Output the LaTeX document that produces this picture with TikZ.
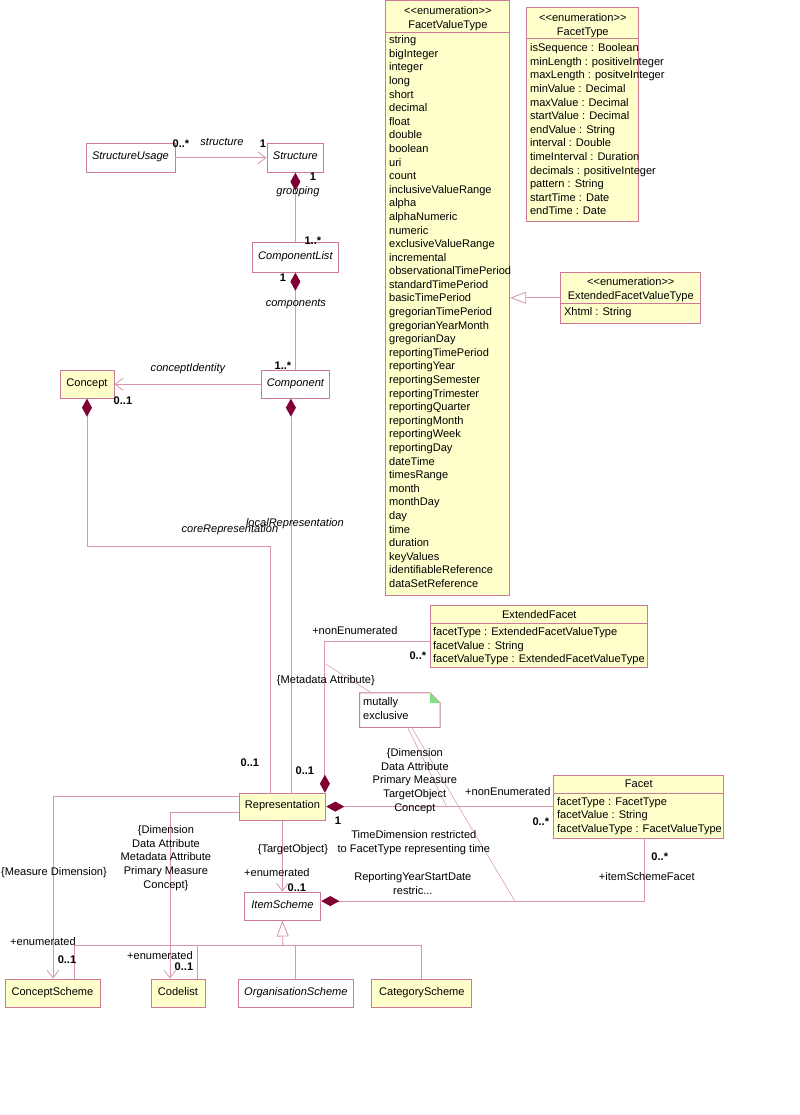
\documentclass[tikz,border=0pt]{standalone}
\usepackage{fontspec}
\setmainfont{Liberation Sans}
\usepackage{xcolor}
\usepackage{tikz}
\usetikzlibrary{arrows.meta}

\definecolor{umlline}{RGB}{216,150,172}
\definecolor{umlborder}{RGB}{204,122,150}
\definecolor{umlfill}{RGB}{255,255,204}
\definecolor{umldiamond}{RGB}{128,0,51}
\definecolor{umlgreen}{RGB}{128,224,128}

\tikzset{
    sz/.style 2 args={minimum width=#1*0.75pt, minimum height=#2*0.75pt},
    cls/.style={draw=umlborder, line width=0.6pt, fill=white, inner sep=0pt, text height=6pt, text depth=3pt},
    ycls/.style={cls, fill=umlfill},
    abs/.style={cls, font=\fontsize{8.3}{10.2}\selectfont\itshape},
    sep/.style={draw=umlborder, line width=0.6pt},
    assoc/.style={draw=umlline, line width=0.6pt},
    comp/.style={{Diamond[length=13.5pt,width=7.5pt,color=umldiamond,fill=umldiamond]}-},
    gen/.style={-{Triangle[open,length=12pt,width=9pt,fill=white]}},
    lbl/.style={inner sep=0pt},
    mult/.style={lbl, font=\fontsize{8.3}{10.2}\selectfont\bfseries},
    role/.style={lbl, font=\fontsize{8.3}{10.2}\selectfont\itshape},
    list/.style={inner sep=0pt, anchor=north west, align=left}
}

\begin{document}
\begin{tikzpicture}[x=0.75pt, y=-0.75pt, font=\fontsize{8.3}{10.2}\selectfont,
                >={Straight Barb[length=6pt,width=9pt]}]
                \fill[white] (0,0) rectangle (800,1115);

                \node[abs, sz={89}{29}] (Usage) at (130.5,157.5) {StructureUsage};
                \node[abs, sz={57}{29}] (Struct) at (295.5,157.5) {Structure};
                \node[abs, sz={87}{30}] (List) at (295.5,257) {ComponentList};
                \node[abs, sz={69}{28}] (Comp) at (295.5,384) {Component};
                \node[ycls, sz={54}{28}] (Conc) at (87,384) {Concept};
                \node[ycls, sz={87}{27}] (Rep) at (282.5,806.5) {Representation};
                \node[abs, sz={77}{28}] (Items) at (282.5,906) {ItemScheme};
                \node[ycls, sz={95}{28}] (CScheme) at (52.5,993) {ConceptScheme};
                \node[ycls, sz={54}{28}] (Codes) at (178,993) {Codelist};
                \node[abs, sz={116}{28}] (OScheme) at (296,993) {OrganisationScheme};
                \node[ycls, sz={100}{28}] (CatScheme) at (422,993) {CategoryScheme};

                \node[ycls, sz={124}{595}] (FVT) at (448,297.5) {};
                \node[lbl, align=center] (FVTname) at (448,18) {<{}<enumeration>{}>\\FacetValueType};
                \draw[sep] (FVT.west |- 0,32) -- (FVT.east |- 0,32);
                \node[list] (FVTlist) at (389,35) {string\\bigInteger\\integer\\long\\short\\decimal\\float\\double\\boolean\\uri\\count\\inclusiveValueRange\\alpha\\alphaNumeric\\numeric\\exclusiveValueRange\\incremental\\observationalTimePeriod\\standardTimePeriod\\basicTimePeriod\\gregorianTimePeriod\\gregorianYearMonth\\gregorianDay\\reportingTimePeriod\\reportingYear\\reportingSemester\\reportingTrimester\\reportingQuarter\\reportingMonth\\reportingWeek\\reportingDay\\dateTime\\timesRange\\month\\monthDay\\day\\time\\duration\\keyValues\\identifiableReference\\dataSetReference};

                \node[ycls, sz={112}{214}] (FT) at (583,114) {};
                \node[lbl, align=center] (FTname) at (583,25.5) {<{}<enumeration>{}>\\FacetType};
                \draw[sep] (FT.west |- 0,38) -- (FT.east |- 0,38);
                \node[list] (FTlist) at (530,43) {isSequence : Boolean\\minLength : positiveInteger\\maxLength : positveInteger\\minValue : Decimal\\maxValue : Decimal\\startValue : Decimal\\endValue : String\\interval : Double\\timeInterval : Duration\\decimals : positiveInteger\\pattern : String\\startTime : Date\\endTime : Date};

                \node[ycls, sz={140}{51}] (EFVT) at (631,297.5) {};
                \node[lbl, align=center] (EFVTname) at (631,289.5) {<{}<enumeration>{}>\\ExtendedFacetValueType};
                \draw[sep] (EFVT.west |- 0,303) -- (EFVT.east |- 0,303);
                \node[list] (EFVTlist) at (564,307) {Xhtml : String};

                \node[ycls, sz={217}{62}] (ExtFacet) at (539.5,636) {};
                \node[lbl] (ExtFacetname) at (539.5,614) {ExtendedFacet};
                \draw[sep] (ExtFacet.west |- 0,623) -- (ExtFacet.east |- 0,623);
                \node[list] (ExtFacetlist) at (433,627) {facetType : ExtendedFacetValueType\\facetValue : String\\facetValueType : ExtendedFacetValueType};

                \node[ycls, sz={170}{63}] (Facet) at (639,806.5) {};
                \node[lbl] (Facetname) at (639,784) {Facet};
                \draw[sep] (Facet.west |- 0,793) -- (Facet.east |- 0,793);
                \node[list] (Facetlist) at (557,797) {facetType : FacetType\\facetValue : String\\facetValueType : FacetValueType};

                \draw[assoc, ->] (Usage) -- (Struct);
                \draw[assoc, comp] (Struct) -- (List);
                \draw[assoc, comp] (List) -- (Comp);
                \draw[assoc, ->] (Comp) -- (Conc);

                \coordinate (CoreBend) at (270,546);
                \draw[assoc, comp] (Conc.south) |- (CoreBend) -- (CoreBend |- Rep.north);
                \coordinate (LocalX) at (291,0);
                \draw[assoc, comp] (LocalX |- Comp.south) -- (LocalX |- Rep.north);

                \coordinate (NonEnum) at (325,641);
                \draw[assoc, comp] (NonEnum |- Rep.north) -- (NonEnum) -- (NonEnum -| ExtFacet.west);
                \draw[assoc, comp] (Rep) -- (Facet);
                \coordinate (SchemeFacet) at (645,901);
                \draw[assoc, comp] (Items.east |- SchemeFacet) -- (SchemeFacet) -- (SchemeFacet |- Facet.south);
                \draw[assoc, ->] (Rep) -- (Items);

                \coordinate (MeasureBend) at (53,796);
                \draw[assoc, ->] (Rep.west |- MeasureBend) -- (MeasureBend) -- (MeasureBend |- CScheme.north);
                \coordinate (DimBend) at (170,812);
                \draw[assoc, ->] (Rep.west |- DimBend) -- (DimBend) -- (DimBend |- Codes.north);

                \coordinate (Bus) at (283,945);
                \coordinate (BusLeft) at (74,945);
                \coordinate (BusCode) at (197,945);
                \draw[assoc, gen] (Bus) -- (Items.south);
                \draw[assoc] (BusLeft |- CScheme.north) -- (BusLeft) -- (Bus -| CatScheme.north) -- (CatScheme.north);
                \draw[assoc] (BusCode) -- (BusCode |- Codes.north);
                \draw[assoc] (Bus -| OScheme.north) -- (OScheme.north);
                \draw[assoc, gen] (EFVT.west) -- (EFVT.west -| FVT.east);

                \node[lbl, sz={80}{34}] (Note) at (400,710) {};
                \draw[sep, fill=white] (Note.north west) -- ([xshift=-7.5pt]Note.north east) -- ([yshift=-7.5pt]Note.north east) -- (Note.south east) -- (Note.south west) -- cycle;
                \fill[umlgreen] ([xshift=-7.5pt]Note.north east) -- ([yshift=-7.5pt]Note.north east) -- ([xshift=-7.5pt,yshift=-7.5pt]Note.north east) -- cycle;
                \node[list] (Notetext) at (363,697) {mutally\\exclusive};
                \coordinate (NoteA) at (326,664);
                \coordinate (NoteB) at (447,807);
                \coordinate (NoteC) at (515,901);
                \draw[assoc, thin] (NoteA) -- ([xshift=9pt]Note.north west);
                \draw[assoc, thin] ([xshift=36pt]Note.south west) -- (NoteB);
                \draw[assoc, thin] ([xshift=39pt]Note.south west) -- (NoteC);

                \node[mult] (m1) at (181,143) {0..*};
                \node[role] (r1) at (222,142) {structure};
                \node[mult] (m2) at (263,143) {1};
                \node[mult] (m3) at (313,176) {1};
                \node[role] (r2) at (298,191) {grouping};
                \node[mult] (m4) at (313,240) {1..*};
                \node[mult] (m5) at (283,277) {1};
                \node[role] (r3) at (296,304) {components};
                \node[mult] (m6) at (283,365) {1..*};
                \node[role] (r4) at (188,368) {conceptIdentity};
                \node[mult] (m7) at (123,400) {0..1};
                \node[role] (r5) at (230,529) {coreRepresentation};
                \node[mult] (m8) at (250,763) {0..1};
                \node[role] (r6) at (295,523) {localRepresentation};
                \node[mult] (m9) at (305,771) {0..1};
                \node[lbl] (r7) at (355,630) {+nonEnumerated};
                \node[mult] (m10) at (418,656) {0..*};
                \node[lbl] (c1) at (326,680) {\{Metadata Attribute\}};
                \node[mult] (m11) at (338,821) {1};
                \node[lbl] (r8) at (508,791) {+nonEnumerated};
                \node[mult] (m12) at (541,822) {0..*};
                \node[lbl, align=center] (c2) at (415,781) {\{Dimension\\Data Attribute\\Primary Measure\\TargetObject\\Concept};
                \node[lbl, align=center] (c3) at (414,842.5) {TimeDimension restricted\\to FacetType representing time};
                \node[lbl, align=center] (c4) at (413,883.5) {ReportingYearStartDate\\restric...};
                \node[mult] (m13) at (660,857) {0..*};
                \node[lbl] (r9) at (647,876) {+itemSchemeFacet};
                \node[lbl] (c5) at (293,850) {\{TargetObject\}};
                \node[lbl] (r10) at (277,872) {+enumerated};
                \node[mult] (m14) at (297,888) {0..1};
                \node[lbl] (c6) at (54,873) {\{Measure Dimension\}};
                \node[lbl] (r11) at (43,941) {+enumerated};
                \node[mult] (m15) at (67,960) {0..1};
                \node[lbl, align=center] (c7) at (166,858) {\{Dimension\\Data Attribute\\Metadata Attribute\\Primary Measure\\Concept\}};
                \node[lbl] (r12) at (160,955) {+enumerated};
                \node[mult] (m16) at (184,967) {0..1};
            \end{tikzpicture}
\end{document}
